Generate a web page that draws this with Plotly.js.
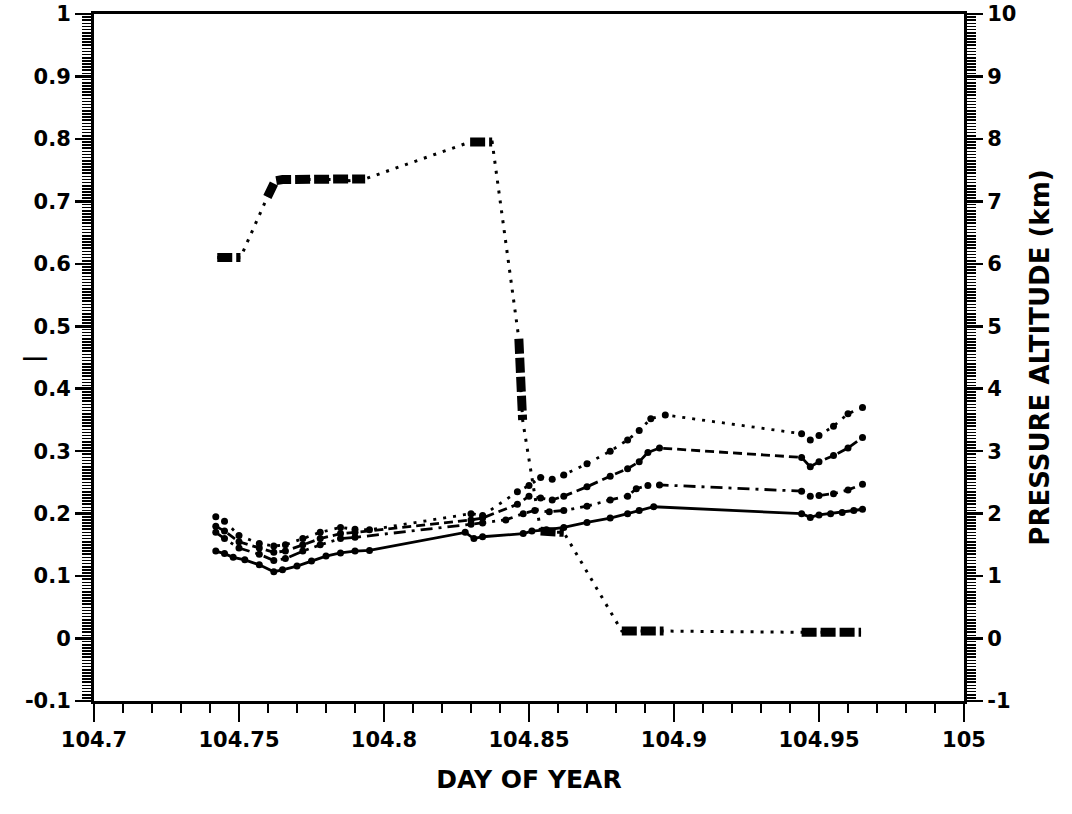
<!DOCTYPE html>
<html>
<head>
<meta charset="utf-8">
<script src="https://cdn.plot.ly/plotly-3.0.1.min.js"></script>
<style>
  html, body { margin: 0; padding: 0; background: #fff; }
  #chart { width: 1072px; height: 814px; }
</style>
</head>
<body>
<div id="chart"></div>
<script>
// Tick labels
const xTickVals = [104.7, 104.75, 104.8, 104.85, 104.9, 104.95, 105];
const xTickText = ['104.7', '104.75', '104.8', '104.85', '104.9', '104.95', '105'];
const yTickVals = [-0.1, 0, 0.1, 0.2, 0.3, 0.4, 0.5, 0.6, 0.7, 0.8, 0.9, 1];
const yTickText = ['-0.1', '0', '0.1', '0.2', '0.3', '0.4', '0.5', '0.6', '0.7', '0.8', '0.9', '1'];
const y2TickVals = [-1, 0, 1, 2, 3, 4, 5, 6, 7, 8, 9, 10];
const y2TickText = ['-1', '0', '1', '2', '3', '4', '5', '6', '7', '8', '9', '10'];

// Solid curve (lowest)
const solidTime = [104.742, 104.745, 104.748, 104.752, 104.757, 104.762, 104.765, 104.770, 104.775, 104.780,
  104.785, 104.790, 104.795, 104.828, 104.831, 104.834, 104.848, 104.851, 104.856, 104.862,
  104.870, 104.878, 104.884, 104.888, 104.893, 104.944, 104.947, 104.950, 104.954, 104.958, 104.962, 104.965];
const solidVal = [0.140, 0.136, 0.130, 0.126, 0.118, 0.107, 0.110, 0.116, 0.124, 0.132,
  0.137, 0.140, 0.141, 0.170, 0.160, 0.163, 0.168, 0.172, 0.174, 0.178,
  0.186, 0.193, 0.200, 0.205, 0.211, 0.200, 0.194, 0.198, 0.200, 0.202, 0.205, 0.207];

// Dash-dot curve
const dashDotTime = [104.742, 104.745, 104.750, 104.757, 104.762, 104.766, 104.772, 104.778, 104.785, 104.790,
  104.830, 104.834, 104.842, 104.848, 104.852, 104.857, 104.862, 104.870, 104.878, 104.884,
  104.887, 104.891, 104.895, 104.944, 104.947, 104.950, 104.955, 104.960, 104.965];
const dashDotVal = [0.170, 0.160, 0.145, 0.135, 0.125, 0.128, 0.140, 0.150, 0.160, 0.162,
  0.183, 0.185, 0.190, 0.200, 0.205, 0.203, 0.205, 0.212, 0.222, 0.228,
  0.240, 0.245, 0.246, 0.236, 0.228, 0.229, 0.232, 0.238, 0.247];

// Dashed curve
const dashTime = [104.742, 104.745, 104.750, 104.757, 104.762, 104.766, 104.772, 104.778, 104.785, 104.790,
  104.830, 104.834, 104.846, 104.850, 104.854, 104.858, 104.862, 104.870, 104.878, 104.884,
  104.888, 104.891, 104.895, 104.944, 104.947, 104.950, 104.955, 104.960, 104.965];
const dashVal = [0.180, 0.172, 0.155, 0.145, 0.138, 0.140, 0.150, 0.160, 0.168, 0.170,
  0.190, 0.193, 0.215, 0.228, 0.225, 0.222, 0.228, 0.243, 0.260, 0.272,
  0.283, 0.298, 0.305, 0.290, 0.275, 0.283, 0.293, 0.305, 0.322];

// Dotted curve (highest)
const dotTime = [104.742, 104.745, 104.750, 104.757, 104.762, 104.766, 104.772, 104.778, 104.785, 104.790,
  104.795, 104.830, 104.834, 104.846, 104.850, 104.854, 104.858, 104.862, 104.870, 104.878,
  104.884, 104.888, 104.892, 104.897, 104.944, 104.947, 104.950, 104.955, 104.960, 104.965];
const dotVal = [0.195, 0.188, 0.165, 0.152, 0.148, 0.150, 0.160, 0.170, 0.178, 0.175,
  0.174, 0.200, 0.197, 0.235, 0.245, 0.258, 0.255, 0.262, 0.280, 0.300,
  0.318, 0.333, 0.352, 0.358, 0.328, 0.318, 0.325, 0.340, 0.360, 0.370];

// Pressure altitude (km), right axis
const altTime = [104.7425, 104.745, 104.748, 104.7505, 104.7598, 104.7610, 104.7625, 104.765, 104.768, 104.771,
  104.774, 104.777, 104.780, 104.7825, 104.785, 104.788, 104.791, 104.7935, 104.8297, 104.832,
  104.835, 104.8373, 104.8465, 104.8468, 104.8472, 104.8475, 104.8478, 104.854, 104.858, 104.862,
  104.882, 104.886, 104.889, 104.8915, 104.8964, 104.944, 104.947, 104.950, 104.953, 104.956,
  104.959, 104.962, 104.9645];
const altKm = [6.1, 6.1, 6.1, 6.1, 7.07, 7.2, 7.33, 7.35, 7.35, 7.35,
  7.35, 7.35, 7.35, 7.34, 7.35, 7.33, 7.35, 7.36, 7.95, 7.95,
  7.95, 7.95, 4.8, 4.6, 4.0, 3.7, 3.5, 1.72, 1.7, 1.7,
  0.12, 0.12, 0.12, 0.12, 0.12, 0.1, 0.1, 0.1, 0.1, 0.1,
  0.1, 0.1, 0.1];

// Runs of closely spaced samples are drawn as heavy bars over the dotted path
function clusterRuns(t, v, gap) {
  const xs = [], ys = [];
  for (let i = 0; i < t.length; i++) {
    const prevNear = i > 0 && t[i] - t[i - 1] <= gap;
    const nextNear = i < t.length - 1 && t[i + 1] - t[i] <= gap;
    if (prevNear || nextNear) {
      if (!prevNear && xs.length) { xs.push(null); ys.push(null); }
      xs.push(t[i]); ys.push(v[i]);
    }
  }
  return { x: xs, y: ys };
}
const altRuns = clusterRuns(altTime, altKm, 0.005);

const black = '#000';
const fam = 'DejaVu Sans, Liberation Sans, Arial, sans-serif';
const traces = [
  { x: solidTime, y: solidVal, mode: 'lines+markers', line: { color: black, width: 2.8 },
    marker: { color: black, size: 7 }, yaxis: 'y' },
  { x: dashDotTime, y: dashDotVal, mode: 'lines+markers', line: { color: black, width: 2.8, dash: '12px,6px,3px,6px' },
    marker: { color: black, size: 7 }, yaxis: 'y' },
  { x: dashTime, y: dashVal, mode: 'lines+markers', line: { color: black, width: 2.8, dash: '9px,5px' },
    marker: { color: black, size: 7 }, yaxis: 'y' },
  { x: dotTime, y: dotVal, mode: 'lines+markers', line: { color: black, width: 2.8, dash: '3px,7px' },
    marker: { color: black, size: 7 }, yaxis: 'y' },
  { x: altTime, y: altKm, mode: 'lines', line: { color: black, width: 3, dash: '3px,7px' }, yaxis: 'y2' },
  { x: altRuns.x, y: altRuns.y, mode: 'lines', connectgaps: false,
    line: { color: black, width: 9, dash: '15px,4px' }, yaxis: 'y2' }
];

const tickFont = { family: fam, size: 21, color: black, weight: 'bold' };
const titleFont = { family: fam, size: 25, color: black, weight: 'bold' };

const layout = {
  width: 1072, height: 814,
  paper_bgcolor: '#fff', plot_bgcolor: '#fff',
  showlegend: false,
  margin: { l: 94, r: 108, t: 14, b: 113 },
  xaxis: {
    range: [104.7, 105], tickmode: 'array', tickvals: xTickVals, ticktext: xTickText,
    ticks: 'outside', ticklen: 18, tickwidth: 2.5, tickcolor: black,
    minor: { tickmode: 'linear', tick0: 104.7, dtick: 0.01, ticks: 'outside', ticklen: 9, tickwidth: 2, tickcolor: black },
    showline: true, linewidth: 3, linecolor: black, mirror: true,
    showgrid: false, zeroline: false, tickfont: tickFont,
    title: { text: 'DAY OF YEAR', font: titleFont, standoff: 20 }
  },
  yaxis: {
    range: [-0.1, 1], tickmode: 'array', tickvals: yTickVals, ticktext: yTickText,
    ticks: 'outside', ticklen: 16, tickwidth: 2.5, tickcolor: black,
    minor: { tickmode: 'linear', tick0: -0.1, dtick: 0.005, ticks: 'outside', ticklen: 9, tickwidth: 1.6, tickcolor: black },
    showline: true, linewidth: 3, linecolor: black,
    showgrid: false, zeroline: false, tickfont: tickFont
  },
  yaxis2: {
    range: [-1, 10], overlaying: 'y', side: 'right', tickmode: 'array', tickvals: y2TickVals, ticktext: y2TickText,
    ticks: 'outside', ticklen: 16, tickwidth: 2.5, tickcolor: black,
    minor: { tickmode: 'linear', tick0: -1, dtick: 0.05, ticks: 'outside', ticklen: 9, tickwidth: 1.6, tickcolor: black },
    showline: true, linewidth: 3, linecolor: black,
    showgrid: false, zeroline: false, tickfont: tickFont,
    title: { text: 'PRESSURE ALTITUDE (km)', font: { family: fam, size: 26, color: black, weight: 'bold' }, standoff: 16 }
  },
  annotations: [
    { xref: 'paper', yref: 'paper', x: -0.084, y: 0.502, text: '—', showarrow: false,
      font: { family: 'Liberation Sans, Arial, sans-serif', size: 24, color: black, weight: 'bold' } }
  ]
};

Plotly.newPlot('chart', traces, layout, { staticPlot: true, displayModeBar: false });
</script>
</body>
</html>
